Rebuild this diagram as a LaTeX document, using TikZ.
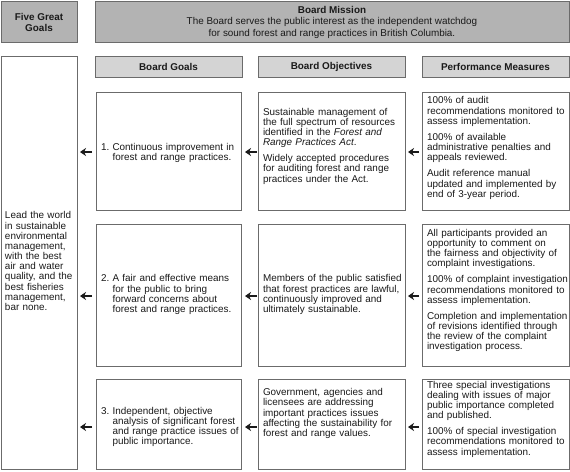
\documentclass[tikz,border=0pt]{standalone}
\usepackage{fontspec}
\setmainfont{Liberation Sans}
\usetikzlibrary{arrows.meta}
\definecolor{bordc}{HTML}{6B6B6B}
\definecolor{topc}{HTML}{B3B3B3}
\definecolor{headc}{HTML}{D4D4D4}
\definecolor{txtc}{HTML}{1A1A1A}
\newcommand\fsz{\fontsize{9.9}{10}\selectfont}
\newcommand\tsz{\fontsize{9.9}{11.6}\selectfont}
\newcommand\gap{\\[6pt]}
\newcommand\lns[1]{\begin{tabular}{@{}l@{}}#1\end{tabular}}
\tikzset{
  base/.style={draw=bordc, line width=0.9pt, inner ysep=0pt, outer sep=0pt, font=\fsz, text=txtc, anchor=north west},
  topbox/.style={base, fill=topc, align=center, inner xsep=0pt, font=\tsz},
  headbox/.style={base, fill=headc, font=\fsz\bfseries, inner xsep=0pt},
  cellbox/.style={base, fill=white, align=left, inner xsep=5pt},
  goalbox/.style={cellbox, text width=135pt, minimum width=145pt},
  objbox/.style={cellbox, text width=137pt, minimum width=147pt},
  arr/.style={-{Stealth[length=6pt,width=8pt]}, line width=1.7pt, draw=txtc},
}
\begin{document}
\begin{tikzpicture}[x=1pt,y=-1pt]
\useasboundingbox (0,0) rectangle (570,471);
% top row
\node[topbox, minimum width=76pt, minimum height=41pt] (five) at (1,1) {\rule{0pt}{9pt}\bfseries Five Great\\\bfseries Goals};
\node[topbox, minimum width=474pt, minimum height=41pt] (mission) at (95,1)
  {\rule{0pt}{9pt}\bfseries Board Mission\\The Board serves the public interest as the independent watchdog\\for sound forest and range practices in British Columbia.};
% left column
\node[cellbox, inner xsep=4pt, text width=68pt, minimum width=76pt, minimum height=413pt] (lead) at (1,56)
  {\lns{Lead the world\\in sustainable\\environmental\\management,\\with the best\\air and water\\quality, and the\\best fisheries\\management,\\bar none.}};
% headers
\node[headbox, minimum width=147pt, minimum height=21pt] (hg) at (95,56) {Board Goals};
\node[headbox, minimum width=147pt, minimum height=21pt] (ho) at (258,56) {Board Objectives};
\node[headbox, minimum width=147pt, minimum height=21pt] (hp) at (422,56) {Performance Measures};
% goals
\node[goalbox, minimum height=118pt] (g1) at (96,92)
  {\begin{tabular}{@{}l@{\ }l@{}}\rule{0pt}{12pt}1.&Continuous improvement in\\&forest and range practices.\end{tabular}};
\node[goalbox, minimum height=142pt] (g2) at (96,224)
  {\begin{tabular}{@{}l@{\ }l@{}}2.&A fair and effective means\\&for the public to bring\\&forward concerns about\\&forest and range practices.\end{tabular}};
\node[goalbox, minimum height=90pt] (g3) at (96,379)
  {\begin{tabular}{@{}l@{\ }l@{}}\rule{0pt}{14pt}3.&Independent, objective\\&analysis of significant forest\\&and range practice issues of\\&public importance.\end{tabular}};
% objectives
\node[objbox, minimum height=118pt] (o1) at (258,92)
  {\lns{Sustainable management of\\the full spectrum of resources\\identified in the \textit{Forest and}\\\textit{Range Practices Act}.\gap Widely accepted procedures\\for auditing forest and range\\practices under the Act.\\[9pt]}};
\node[objbox, minimum height=142pt] (o2) at (258,224)
  {\lns{Members of the public satisfied\\that forest practices are lawful,\\continuously improved and\\ultimately sustainable.}};
\node[objbox, minimum height=90pt] (o3) at (258,379)
  {\lns{Government, agencies and\\licensees are addressing\\important practices issues\\affecting the sustainability for\\forest and range values.\\[20pt]}};
% performance
\node[objbox, minimum height=118pt] (p1) at (422,92)
  {\lns{100\% of audit\\recommendations monitored to\\assess implementation.\gap 100\% of available\\administrative penalties and\\appeals reviewed.\gap Audit reference manual\\updated and implemented by\\end of 3-year period.\\[5pt]}};
\node[objbox, minimum height=142pt] (p2) at (422,224)
  {\lns{All participants provided an\\opportunity to comment on\\the fairness and objectivity of\\complaint investigations.\gap 100\% of complaint investigation\\recommendations monitored to\\assess implementation.\gap Completion and implementation\\of revisions identified through\\the review of the complaint\\investigation process.\\[8pt]}};
\node[objbox, minimum height=90pt] (p3) at (422,379)
  {\lns{Three special investigations\\dealing with issues of major\\public importance completed\\and published.\gap 100\% of special investigation\\recommendations monitored to\\assess implementation.\\[9pt]}};
% arrows
\foreach \r/\dy in {1/-1pt,2/-1pt,3/-3pt}{
  \draw[arr, shorten <=3pt, shorten >=3pt] ([yshift=\dy]p\r.west) -- ([yshift=\dy]o\r.east);
  \draw[arr, shorten <=1pt, shorten >=4pt] ([yshift=\dy]o\r.west) -- ([yshift=\dy]g\r.east);
  \draw[arr, shorten <=4pt, shorten >=3pt] ([yshift=\dy]g\r.west) -- ([yshift=\dy]g\r.west -| lead.east);
}
\end{tikzpicture}
\end{document}
